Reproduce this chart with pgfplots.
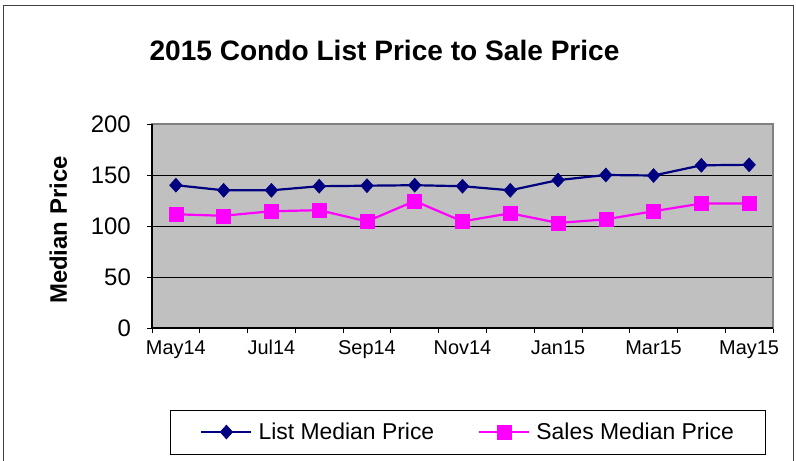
\documentclass[border=0pt]{standalone}
\usepackage{pgfplots}
\pgfplotsset{compat=1.18}
\usepackage{fontspec}
\setmainfont{Liberation Sans}
\definecolor{listc}{HTML}{000080}
\definecolor{salec}{HTML}{FF00FF}
\definecolor{plotbg}{HTML}{C0C0C0}
\definecolor{frameg}{HTML}{808080}
\begin{document}
\begin{tikzpicture}
\useasboundingbox (0bp,0bp) rectangle (796bp,461bp);
\draw[line width=1bp, black!75] (3bp,0bp) -- (3bp,455.5bp) -- (793bp,455.5bp) -- (793bp,0bp);
\node[font=\fontsize{28.2}{32}\selectfont\bfseries] at (384.5bp,411bp) {2015 Condo List Price to Sale Price};
\begin{axis}[
  at={(152bp,133bp)}, anchor=south west,
  scale only axis, width=621bp, height=204bp,
  xmin=-0.5, xmax=12.5, ymin=0, ymax=200,
  axis background/.style={fill=plotbg},
  axis line style={draw=frameg, line width=1.2bp},
  xtick={-0.5,0.5,...,12.5}, xticklabels={},
  extra x ticks={0,2,...,12},
  extra x tick labels={May14,Jul14,Sep14,Nov14,Jan15,Mar15,May15},
  extra x tick style={major tick length=0pt},
  xtick pos=bottom, ytick pos=left,
  tick align=outside, major tick length=5bp,
  tick style={draw=black, line width=0.8bp},
  ytick={0,50,...,200},
  ymajorgrids, grid style={draw=black, line width=0.8bp},
  xticklabel style={font=\fontsize{20}{24}\selectfont, anchor=base, yshift=-26bp},
  yticklabel style={font=\fontsize{24}{28}\selectfont, anchor=east, inner sep=0pt, xshift=-16bp, /pgf/number format/assume math mode=true},
  ylabel={Median Price},
  ylabel style={font=\fontsize{24}{28}\selectfont\bfseries, at={(axis description cs:-0.151,0.48)}, anchor=center},
  legend columns=2,
  legend style={at={(0.509,-0.51)}, anchor=center, draw=black, line width=0.8bp,
    font=\fontsize{23}{27}\selectfont, inner xsep=30bp, inner ysep=11bp,
    /tikz/every odd column/.append style={column sep=4bp},
    /tikz/every even column/.append style={column sep=42bp}},
  legend cell align=left,
  legend image code/.code={\draw[mark repeat=2,mark phase=2,#1] plot coordinates {(0bp,0bp)(25bp,0bp)(50bp,0bp)};},
  clip=false,
]
\addplot[listc, line width=2.2bp, mark=diamond*, mark size=7bp, mark options={solid, fill=listc, line width=0.5bp, xscale=1.2}]
  coordinates {(0,140)(1,135)(2,135)(3,139)(4,139.5)(5,140)(6,139)(7,135)(8,145)(9,150)(10,149.5)(11,159.5)(12,160)};
\addlegendentry{List Median Price}
\addplot[salec, line width=2.2bp, mark=square*, mark size=7bp, mark options={solid, fill=salec, line width=0.5bp}]
  coordinates {(0,111.5)(1,110)(2,114.5)(3,115.5)(4,104.5)(5,124.5)(6,104.5)(7,112.5)(8,103)(9,106.5)(10,114.5)(11,122)(12,122)};
\addlegendentry{Sales Median Price}
\draw[black, line width=1.2bp] (rel axis cs:0,1) -- (rel axis cs:0,0) -- (rel axis cs:1,0);
\end{axis}
\end{tikzpicture}
\end{document}
